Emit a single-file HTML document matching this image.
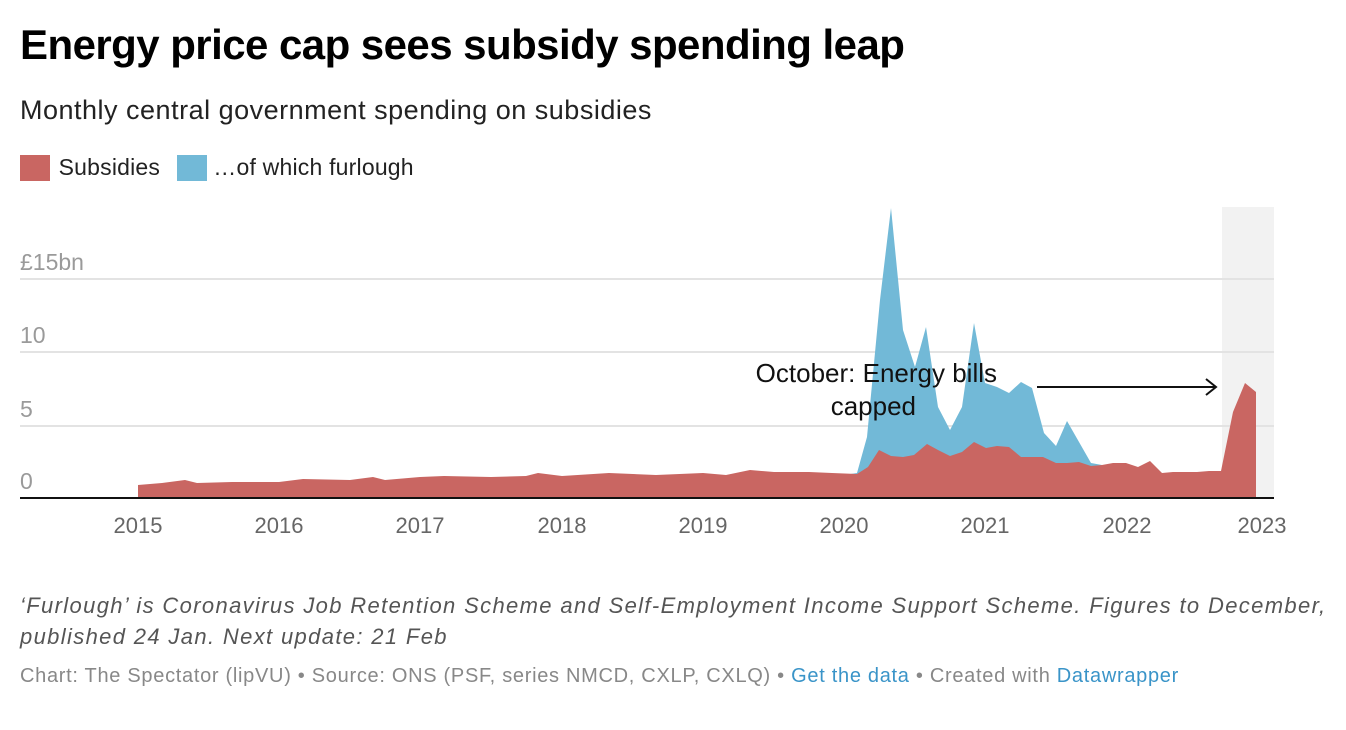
<!DOCTYPE html>
<html><head><meta charset="utf-8"><style>
body{margin:0;background:#fff;font-family:"Liberation Sans",sans-serif;width:1346px;height:730px;overflow:hidden;position:relative}
.t{position:absolute;left:20px;white-space:nowrap}
</style></head><body>
<div class="t" style="top:21px;font-size:42px;font-weight:bold;color:#000;letter-spacing:-0.55px">Energy price cap sees subsidy spending leap</div>
<div class="t" style="top:95px;font-size:27px;color:#222;letter-spacing:0.5px">Monthly central government spending on subsidies</div>
<div class="t" style="top:154px;font-size:23px;color:#222;letter-spacing:0.2px">
<span style="display:inline-block;width:30px;height:26px;background:#c96662;vertical-align:-6px;margin-right:2px"></span> Subsidies
<span style="display:inline-block;width:30px;height:26px;background:#72b9d7;vertical-align:-6px;margin-left:10px;margin-right:0px"></span> …of which furlough</div>
<svg style="position:absolute;left:0;top:0" width="1346" height="560">
<rect x="1222" y="207" width="52" height="291" fill="#f2f2f2"/>
<g stroke="#e3e3e3" stroke-width="2"><line x1="20" x2="1274" y1="279" y2="279"/><line x1="20" x2="1274" y1="352" y2="352"/><line x1="20" x2="1274" y1="426" y2="426"/></g>
<g font-size="23" fill="#9a9a9a"><text x="20" y="270">£15bn</text><text x="20" y="343">10</text><text x="20" y="417">5</text><text x="20" y="489">0</text></g>
<polygon fill="#72b9d7" points="844,475 857,473 867,437 880,300 891,208 903,330 915,367 926,327 938,407 950,430 962,407 974,323 985,383 997,387 1009,393 1021,382 1032,388 1044,433 1056,446 1067,421 1079,442 1091,463 1102,465 1102,498 844,498"/>
<polygon fill="#c96662" points="138,498 138,485 162,483 185,480 197,483 232,482 279,482 303,479 350,480 373,477 385,480 420,477 444,476 491,477 526,476 538,473 562,476 609,473 656,475 703,473 726,475 750,470 774,472 809,472 832,473 857,474 868,467 879,450 891,456 903,457 914,455 927,444 938,450 950,456 962,452 974,442 986,448 997,446 1009,447 1021,457 1032,457 1043,457 1056,463 1067,463 1079,462 1091,466 1102,465 1113,463 1126,463 1138,467 1150,461 1162,473 1173,472 1185,472 1197,472 1209,471 1221,471 1233,412 1245,383 1256,392 1256,498"/>
<line x1="20" x2="1274" y1="498" y2="498" stroke="#111" stroke-width="2"/>
<g font-size="22" fill="#666" text-anchor="middle"><text x="138" y="533">2015</text><text x="279" y="533">2016</text><text x="420" y="533">2017</text><text x="562" y="533">2018</text><text x="703" y="533">2019</text><text x="844" y="533">2020</text><text x="985" y="533">2021</text><text x="1127" y="533">2022</text><text x="1262" y="533">2023</text></g>
<g font-size="26" fill="#111" text-anchor="end"><text x="997" y="382">October: Energy bills</text><text x="916" y="415">capped</text></g>
<line x1="1037" x2="1216" y1="387" y2="387" stroke="#111" stroke-width="2"/>
<polyline points="1206,379 1216,387 1206,395" fill="none" stroke="#111" stroke-width="2"/>
</svg>
<div class="t" style="top:590px;font-size:22px;font-style:italic;color:#555;line-height:31px;letter-spacing:1.35px">‘Furlough’ is Coronavirus Job Retention Scheme and Self-Employment Income Support Scheme. Figures to December,<br>published 24 Jan. Next update: 21 Feb</div>
<div class="t" style="top:665px;font-size:20px;color:#888;letter-spacing:0.7px">Chart: The Spectator (lipVU) • Source: ONS (PSF, series NMCD, CXLP, CXLQ) • <span style="color:#3a94c8">Get the data</span> • Created with <span style="color:#3a94c8">Datawrapper</span></div>
</body></html>
